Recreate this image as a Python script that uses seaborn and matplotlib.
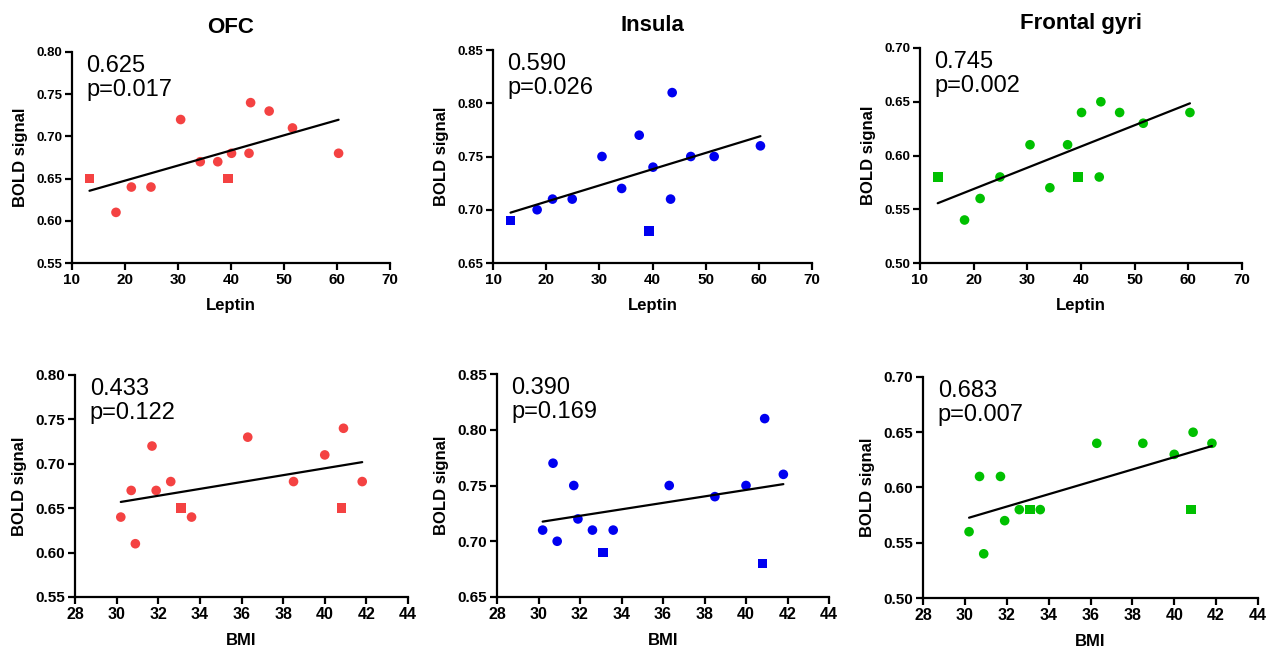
import pandas as pd
import matplotlib
matplotlib.use('Agg')
import matplotlib.pyplot as plt
import seaborn as sns

# Subjects (first two are the square markers)
leptin = [13.3, 39.4, 18.3, 21.2, 24.9, 30.5, 34.2, 37.5, 40.1, 43.4, 43.7, 47.2, 51.6, 60.3]
bmi = [33.1, 40.8, 30.9, 30.2, 33.6, 31.7, 31.9, 30.7, 38.5, 32.6, 40.9, 36.3, 40.0, 41.8]
group = ['square', 'square'] + ['circle'] * 12

ofc = [0.65, 0.65, 0.61, 0.64, 0.64, 0.72, 0.67, 0.67, 0.68, 0.68, 0.74, 0.73, 0.71, 0.68]
insula = [0.69, 0.68, 0.70, 0.71, 0.71, 0.75, 0.72, 0.77, 0.74, 0.71, 0.81, 0.75, 0.75, 0.76]
frontal = [0.58, 0.58, 0.54, 0.56, 0.58, 0.61, 0.57, 0.61, 0.64, 0.58, 0.65, 0.64, 0.63, 0.64]

regions = ['OFC', 'Insula', 'Frontal gyri']
colors = ['#F44242', '#0000F0', '#00C000']
stats_leptin = ['0.625\np=0.017', '0.590\np=0.026', '0.745\np=0.002']
stats_bmi = ['0.433\np=0.122', '0.390\np=0.169', '0.683\np=0.007']
ylims = [(0.55, 0.80), (0.65, 0.85), (0.50, 0.70)]

df = pd.DataFrame({'Leptin': leptin, 'BMI': bmi, 'group': group,
                   'OFC': ofc, 'Insula': insula, 'Frontal gyri': frontal})

sns.set_style('ticks')
plt.rcParams['font.family'] = ['Liberation Sans', 'DejaVu Sans']
plt.rcParams.update({'text.color': 'black', 'axes.labelcolor': 'black',
                     'xtick.color': 'black', 'ytick.color': 'black',
                     'axes.edgecolor': 'black'})

fig = plt.figure(figsize=(12.71, 6.5), dpi=100)

W, H = 1271, 650
top_rects = [(72, 52, 318, 211), (493, 50, 319, 213), (920, 48, 322, 215)]
bot_rects = [(75, 375, 333, 222), (497, 374, 332, 223), (923, 377, 335, 221)]


def make_ax(r):
    x, y, w, h = r
    return fig.add_axes([x / W, 1 - (y + h) / H, w / W, h / H])


def panel(ax, xcol, region, color, text, ylim, xlim, xticks, ytick_size, xtick_size):
    sns.scatterplot(data=df, x=xcol, y=region, style='group',
                    markers={'circle': 'o', 'square': 's'}, color=color,
                    s=48, linewidth=0, legend=False, ax=ax, clip_on=False)
    sns.regplot(data=df, x=xcol, y=region, scatter=False, ci=None, truncate=True,
                color='black', line_kws={'lw': 1.6}, ax=ax)
    ax.set_xlim(*xlim)
    ax.set_ylim(*ylim)
    ax.set_xticks(xticks)
    step = 0.05
    yt = [round(ylim[0] + i * step, 2) for i in range(int(round((ylim[1] - ylim[0]) / step)) + 1)]
    ax.set_yticks(yt)
    ax.set_yticklabels(['%.2f' % v for v in yt], fontsize=ytick_size, fontweight='bold')
    ax.set_xticklabels([str(v) for v in xticks], fontsize=xtick_size, fontweight='bold')
    ax.set_xlabel(xcol, fontsize=12, fontweight='bold', labelpad=8)
    ax.set_ylabel('BOLD signal', fontsize=12, fontweight='bold', labelpad=6)
    for s in ['left', 'bottom']:
        ax.spines[s].set_linewidth(1.6)
    sns.despine(ax=ax)
    ax.tick_params(width=1.6, length=5, pad=2)
    ax.text(0.044, 0.985, text, transform=ax.transAxes, va='top', ha='left',
            fontsize=17, linespacing=1.1)


for i, region in enumerate(regions):
    ax = make_ax(top_rects[i])
    panel(ax, 'Leptin', region, colors[i], stats_leptin[i], ylims[i],
          (10, 70), list(range(10, 71, 10)), 9.5, 11)
    ax.set_title(region, fontsize=16, fontweight='bold', pad=14)
    ax2 = make_ax(bot_rects[i])
    panel(ax2, 'BMI', region, colors[i], stats_bmi[i], ylims[i],
          (28, 44), list(range(28, 45, 2)), 11, 11.5)

fig.savefig('out.png', dpi=100)
